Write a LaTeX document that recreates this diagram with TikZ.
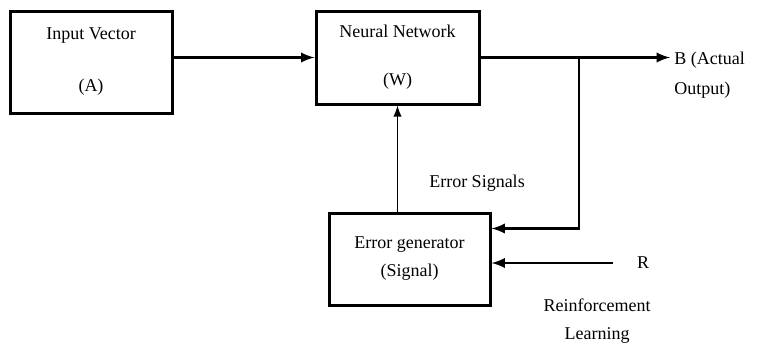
\documentclass[tikz,border=0pt]{standalone}
\usepackage{fontspec}
\setmainfont{Liberation Serif}
\usetikzlibrary{calc}
\tikzset{
	blockbox/.style={draw, line width=1.5pt, align=center, font=\fontsize{9}{11}\selectfont},
	flowarrow/.style={-latex, line width=1.3pt},
	thinflow/.style={line width=0.9pt},
	plainlabel/.style={font=\fontsize{9}{11}\selectfont, inner sep=0pt}
}
\begin{document}
\begin{tikzpicture}[x=0.5pt, y=-0.5pt]
			%%%%% START %%%%%
			\useasboundingbox (0, 0) rectangle (765, 345);
			
			\node[blockbox, minimum width=81pt, minimum height=51pt] (inp) at (91, 62) {Input Vector\\[15pt](A)};
			\node[blockbox, minimum width=81.5pt, minimum height=46.5pt] (nn) at (397.5, 57.5) {Neural Network\\[13pt](W)};
			\node[blockbox, minimum width=80.5pt, minimum height=46pt] (err) at (409.5, 259) {Error generator\\[3pt](Signal)};
			
			\node[plainlabel, align=left, anchor=north west] (outlbl) at (674, 52) {B (Actual\\[4pt]Output)};
			\node[plainlabel] (errlbl) at (477, 183) {Error Signals};
			\node[plainlabel] (r) at (643, 263) {R};
			\node[plainlabel, align=center] (reinf) at (597, 321) {Reinforcement\\[3pt]Learning};
			
			\coordinate (out) at (670, 57.5);
			\coordinate (tap) at (579, 57.5);
			\coordinate (errin) at ([yshift=-8.5pt]err.north east);
			
			\draw[flowarrow] (inp.east |- nn.west) -- (nn.west);
			\draw[flowarrow] (nn.east) -- (out);
			\draw[thinflow] (tap) -- (tap |- errin);
			\draw[flowarrow] ([xshift=0.45pt]tap |- errin) -- (errin);
			\draw[flowarrow] ([xshift=-12pt]r.west) -- (r.west -| err.east);
			\draw[thinflow, -latex] (err.north -| nn.south) -- (nn.south);
			
			%%%%% END %%%%%
		\end{tikzpicture}
\end{document}
